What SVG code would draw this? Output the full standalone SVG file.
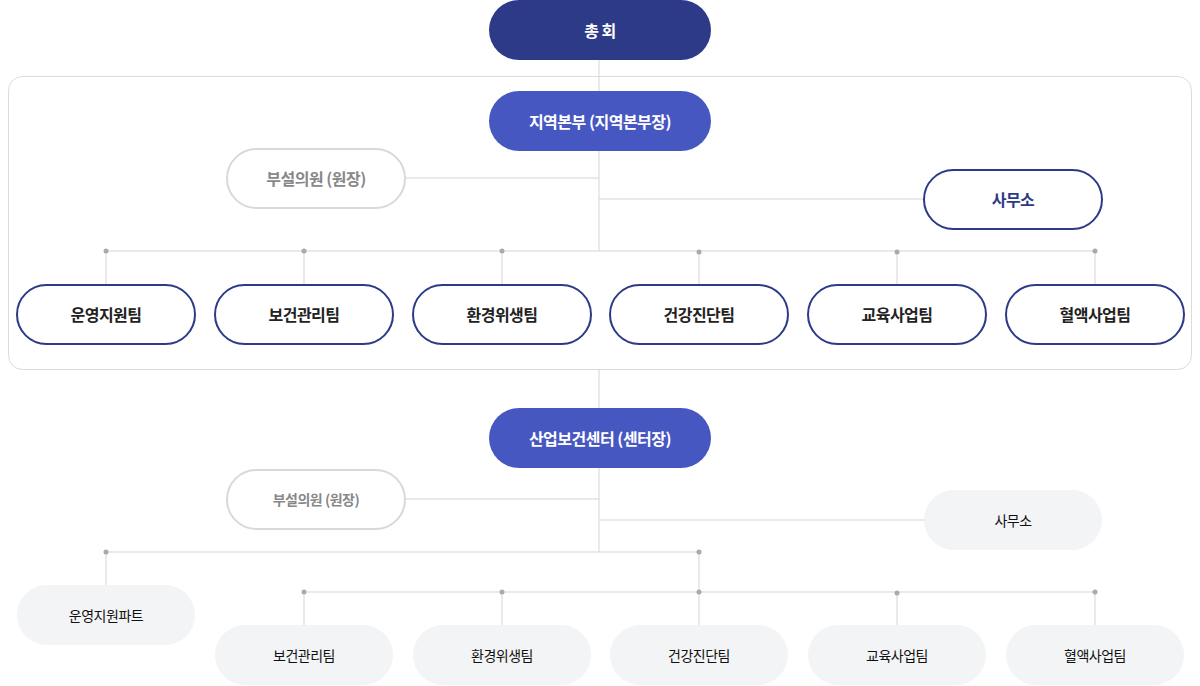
<svg xmlns="http://www.w3.org/2000/svg" width="1200" height="686" viewBox="0 0 1200 686">
<style>
text{font-family:"Noto Sans CJK KR","Noto Sans",sans-serif;font-size:15px;text-anchor:middle;dominant-baseline:central;letter-spacing:-0.5px}
.top{fill:#2d3a87}.blue{fill:#4757c2}.w{fill:#fff;font-weight:bold;font-size:16px}
.team{fill:#fff;stroke:#2d3a87;stroke-width:2}.tt{fill:#222;font-weight:bold;font-size:16px}
.clin{fill:#fff;stroke:#d9d9d9;stroke-width:2}.ct{fill:#888;font-weight:bold;font-size:16px}
.gray{fill:#f3f4f6}.gt{fill:#111;font-size:14px}
.ln{stroke:#d5d5d5;stroke-width:1;fill:none}.dot{fill:#aaa}
</style>
<rect x="8.5" y="76.5" width="1183" height="293" rx="14" fill="#fff" stroke="#dcdcdc"/>
<g id="connectors">
<path class="ln" d="M599 60V251M405 178H599M599 199H924M106 251H1095M106 251V285M304 251V285M502 251V285M699 251V285M897 251V285M1095 251V285M599 369V408M599 468V552M405 499H599M599 520H924M106 552H699M106 552V585M699 552V592M304 592H1095M304 592V625M502 592V625M699 592V625M897 592V625M1095 592V625"/>
<g class="dot"><circle cx="106" cy="251" r="2.5"/><circle cx="304" cy="251" r="2.5"/><circle cx="502" cy="251" r="2.5"/><circle cx="699" cy="252" r="2.5"/><circle cx="897" cy="252" r="2.5"/><circle cx="1095" cy="251" r="2.5"/>
<circle cx="106" cy="552" r="2.5"/><circle cx="699" cy="552" r="2.5"/><circle cx="304" cy="592" r="2.5"/><circle cx="502" cy="592" r="2.5"/><circle cx="699" cy="592" r="2.5"/><circle cx="897" cy="593" r="2.5"/><circle cx="1095" cy="592" r="2.5"/></g>
</g>
<g id="n-assembly"><rect class="top" x="489" y="0" width="222" height="60" rx="30"/><text class="w" x="600" y="30">총 회</text></g>
<g id="n-region"><rect class="blue" x="489" y="91" width="222" height="60" rx="30"/><text class="w" x="600" y="121">지역본부 (지역본부장)</text></g>
<g id="n-clinic1"><rect class="clin" x="227" y="149" width="178" height="59" rx="29.5"/><text class="ct" x="316" y="178">부설의원 (원장)</text></g>
<g id="n-office1"><rect class="team" x="924" y="170" width="178" height="59" rx="29.5"/><text class="tt" x="1013" y="199" style="fill:#2d3a87">사무소</text></g>
<g id="n-t1"><rect class="team" x="17" y="285" width="178" height="59" rx="29.5"/><text class="tt" x="106" y="314">운영지원팀</text></g>
<g id="n-t2"><rect class="team" x="215" y="285" width="178" height="59" rx="29.5"/><text class="tt" x="304" y="314">보건관리팀</text></g>
<g id="n-t3"><rect class="team" x="413" y="285" width="178" height="59" rx="29.5"/><text class="tt" x="502" y="314">환경위생팀</text></g>
<g id="n-t4"><rect class="team" x="610" y="285" width="178" height="59" rx="29.5"/><text class="tt" x="699" y="314">건강진단팀</text></g>
<g id="n-t5"><rect class="team" x="808" y="285" width="178" height="59" rx="29.5"/><text class="tt" x="897" y="314">교육사업팀</text></g>
<g id="n-t6"><rect class="team" x="1006" y="285" width="178" height="59" rx="29.5"/><text class="tt" x="1095" y="314">혈액사업팀</text></g>
<g id="n-center"><rect class="blue" x="489" y="408" width="222" height="60" rx="30"/><text class="w" x="600" y="438">산업보건센터 (센터장)</text></g>
<g id="n-clinic2"><rect class="clin" x="227" y="470" width="178" height="59" rx="29.5"/><text class="ct" x="316" y="499" style="font-size:14px">부설의원 (원장)</text></g>
<g id="n-office2"><rect class="gray" x="924" y="490" width="178" height="60" rx="30"/><text class="gt" x="1013" y="520">사무소</text></g>
<g id="n-p1"><rect class="gray" x="17" y="585" width="178" height="60" rx="30"/><text class="gt" x="106" y="615">운영지원파트</text></g>
<g id="n-b2"><rect class="gray" x="215" y="625" width="178" height="60" rx="30"/><text class="gt" x="304" y="655">보건관리팀</text></g>
<g id="n-b3"><rect class="gray" x="413" y="625" width="178" height="60" rx="30"/><text class="gt" x="502" y="655">환경위생팀</text></g>
<g id="n-b4"><rect class="gray" x="610" y="625" width="178" height="60" rx="30"/><text class="gt" x="699" y="655">건강진단팀</text></g>
<g id="n-b5"><rect class="gray" x="808" y="625" width="178" height="60" rx="30"/><text class="gt" x="897" y="655">교육사업팀</text></g>
<g id="n-b6"><rect class="gray" x="1006" y="625" width="178" height="60" rx="30"/><text class="gt" x="1095" y="655">혈액사업팀</text></g>
</svg>
